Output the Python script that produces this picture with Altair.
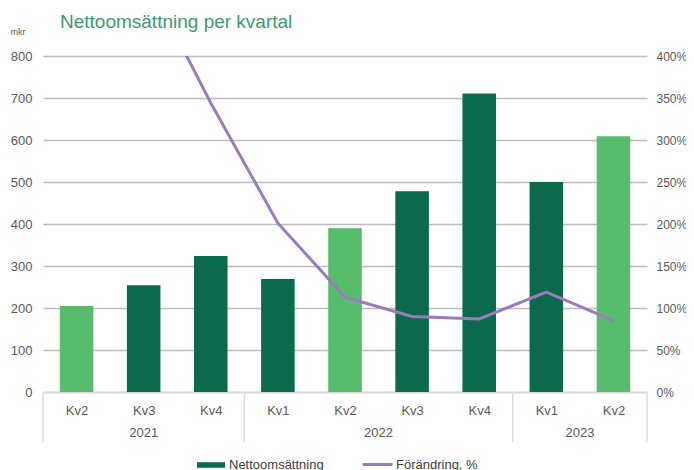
import json
import altair as alt
import pandas as pd

# ---- data ----
years = ["2021", "2021", "2021", "2022", "2022", "2022", "2022", "2023", "2023"]
quarters = ["Kv2", "Kv3", "Kv4", "Kv1", "Kv2", "Kv3", "Kv4", "Kv1", "Kv2"]
sales = [205, 254, 324, 269, 390, 478, 711, 500, 609]          # mkr
change_pct = [None, 500, 344, 201, 113, 90, 87, 119, 85]        # %

SALES_NAME = "Nettoomsättning"
CHANGE_NAME = "Förändring, %"

DARK = "#0b6a4d"
LIGHT = "#57bd6d"
PURPLE = "#9c7bbd"
GRID = "#bdbdbd"
TEXT = "#5a5a5a"
FONT = "Liberation Sans"
FS = 13

W, H = 604, 336

df = pd.DataFrame({
    "idx": list(range(len(quarters))),
    "year": years,
    "quarter": quarters,
    "sales": sales,
    "change": change_pct,
})
df["serie"] = SALES_NAME
df["serie2"] = CHANGE_NAME

# year group boundaries (separators)
bounds = []
for y in dict.fromkeys(years):
    ids = [i for i, yy in enumerate(years) if yy == y]
    bounds.append(min(ids) - 0.5)
bounds.append(len(years) - 0.5)
bdf = pd.DataFrame({"b": bounds})

xscale = alt.Scale(domain=[-0.5, len(quarters) - 0.5], nice=False, zero=False, padding=0)

q_expr = json.dumps(quarters) + "[datum.value]"

base = alt.Chart(df)

legend_common = dict(title=None, orient="none", direction="horizontal",
                     labelFont=FONT, labelFontSize=FS, labelColor="#404040")

bars = base.transform_calculate(
    x1="datum.idx - 0.25", x2="datum.idx + 0.25"
).mark_bar().encode(
    x=alt.X("x1:Q", scale=xscale, axis=alt.Axis(
        values=list(range(len(quarters))), labelExpr=q_expr, title=None,
        ticks=False, grid=False, domainColor="#dcdcdc", domainWidth=1.5,
        labelFont=FONT, labelFontSize=FS, labelColor=TEXT, labelPadding=12)),
    x2="x2:Q",
    y=alt.Y("sales:Q", scale=alt.Scale(domain=[0, 800], nice=False, padding=0),
            axis=alt.Axis(values=list(range(0, 801, 100)), title="mkr",
                          titleAngle=0, titleAlign="left", titleBaseline="middle",
                          titleX=-33, titleY=-25, titleFont=FONT, titleFontSize=9,
                          titleFontWeight="normal", titleColor=TEXT,
                          labelFont=FONT, labelFontSize=FS, labelColor=TEXT,
                          labelPadding=11, ticks=False, domain=False,
                          grid=True, gridColor=GRID, gridWidth=1.5)),
    y2=alt.datum(0),
    color=alt.condition(
        "datum.quarter === 'Kv2'", alt.value(LIGHT),
        alt.Color("serie:N", scale=alt.Scale(domain=[SALES_NAME], range=[DARK]),
                  legend=alt.Legend(legendX=154, legendY=395,
                                    symbolType="M-1,-0.2H1V0.2H-1Z",
                                    symbolSize=784, symbolStrokeWidth=0,
                                    labelOffset=4, **legend_common))),
)

line = base.transform_filter("datum.change != null").mark_line(
    strokeWidth=3, clip=True
).encode(
    x=alt.X("idx:Q", scale=xscale),
    y=alt.Y("change:Q", scale=alt.Scale(domain=[0, 400], nice=False, padding=0),
            axis=alt.Axis(orient="right", values=list(range(0, 401, 50)),
                          labelExpr="datum.value + '%'", title=None,
                          labelFont=FONT, labelFontSize=12, labelColor=TEXT,
                          labelPadding=9, ticks=False, domain=False, grid=False)),
    stroke=alt.Stroke("serie2:N", scale=alt.Scale(domain=[CHANGE_NAME], range=[PURPLE]),
                      legend=alt.Legend(legendX=318, legendY=392,
                                        symbolType="stroke", symbolSize=900,
                                        symbolStrokeWidth=3, labelOffset=2,
                                        **legend_common)),
)

seps = alt.Chart(bdf).mark_rule(color="#dcdcdc", strokeWidth=1.5).encode(
    x=alt.X("b:Q", scale=xscale),
    y=alt.value(H), y2=alt.value(H + 50),
)

year_labels = base.transform_aggregate(
    mid="mean(idx)", groupby=["year"]
).mark_text(font=FONT, fontSize=FS, color=TEXT, baseline="middle").encode(
    x=alt.X("mid:Q", scale=xscale),
    y=alt.value(H + 41),
    text="year:N",
)

chart = alt.layer(bars, line, seps, year_labels).resolve_scale(
    y="independent", color="independent", stroke="independent"
).properties(
    width=W, height=H,
    title=alt.TitleParams("Nettoomsättning per kvartal", anchor="start",
                          font=FONT, fontSize=19, fontWeight="normal",
                          color="#3e9a70", dx=50, offset=0, dy=5),
    autosize=alt.AutoSizeParams(type="none"),
    padding={"left": 35, "top": 48, "right": 39, "bottom": 90},
).configure_view(stroke=None)

chart.save("out.html", embed_options={"renderer": "svg", "actions": False})
